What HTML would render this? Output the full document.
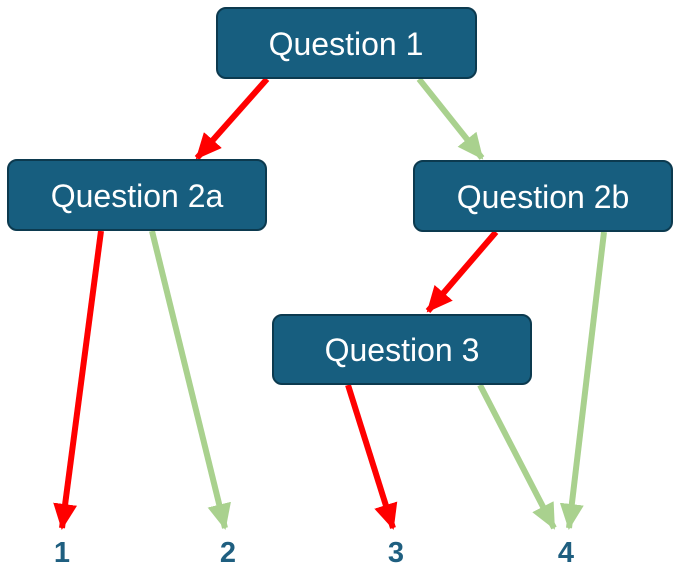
<!DOCTYPE html>
<html><head><style>
body{margin:0;width:678px;height:576px;background:#fff;overflow:hidden}
</style></head><body>
<svg width="678" height="576" viewBox="0 0 678 576" xmlns="http://www.w3.org/2000/svg">
<defs>
<marker id="r" markerUnits="userSpaceOnUse" markerWidth="26" markerHeight="24" refX="24" refY="12" orient="auto"><path d="M0,0 L26,12 L0,24 Z" fill="#ff0000"/></marker>
<marker id="g" markerUnits="userSpaceOnUse" markerWidth="26" markerHeight="24" refX="24" refY="12" orient="auto"><path d="M0,0 L26,12 L0,24 Z" fill="#a9d18e"/></marker>
</defs>
<g stroke-width="6" fill="none">
<line x1="267" y1="79" x2="197" y2="158" stroke="#ff0000" marker-end="url(#r)"/>
<line x1="419" y1="79" x2="482" y2="158" stroke="#a9d18e" marker-end="url(#g)"/>
<line x1="101" y1="231" x2="62" y2="528" stroke="#ff0000" marker-end="url(#r)"/>
<line x1="152" y1="231" x2="225" y2="528" stroke="#a9d18e" marker-end="url(#g)"/>
<line x1="496" y1="232" x2="428" y2="311" stroke="#ff0000" marker-end="url(#r)"/>
<line x1="604" y1="232" x2="569" y2="528" stroke="#a9d18e" marker-end="url(#g)"/>
<line x1="348" y1="385" x2="393" y2="528" stroke="#ff0000" marker-end="url(#r)"/>
<line x1="480" y1="385" x2="554" y2="528" stroke="#a9d18e" marker-end="url(#g)"/>
</g>
<g fill="#175e7f" stroke="#0c3a4f" stroke-width="2">
<rect x="217" y="8" width="259" height="70" rx="9"/>
<rect x="8" y="160" width="258" height="70" rx="9"/>
<rect x="414" y="161" width="258" height="70" rx="9"/>
<rect x="273" y="315" width="258" height="69" rx="9"/>
</g>
<g fill="#fff" font-family="Liberation Sans, sans-serif" font-size="32" text-anchor="middle">
<text x="346" y="55">Question 1</text>
<text x="137" y="207">Question 2a</text>
<text x="543" y="208">Question 2b</text>
<text x="402" y="361">Question 3</text>
</g>
<g fill="#1f5f80" font-family="Liberation Sans, sans-serif" font-size="29" font-weight="bold" text-anchor="middle">
<text x="62" y="562">1</text>
<text x="228" y="562">2</text>
<text x="396" y="562">3</text>
<text x="566" y="562">4</text>
</g>
</svg>
</body></html>
